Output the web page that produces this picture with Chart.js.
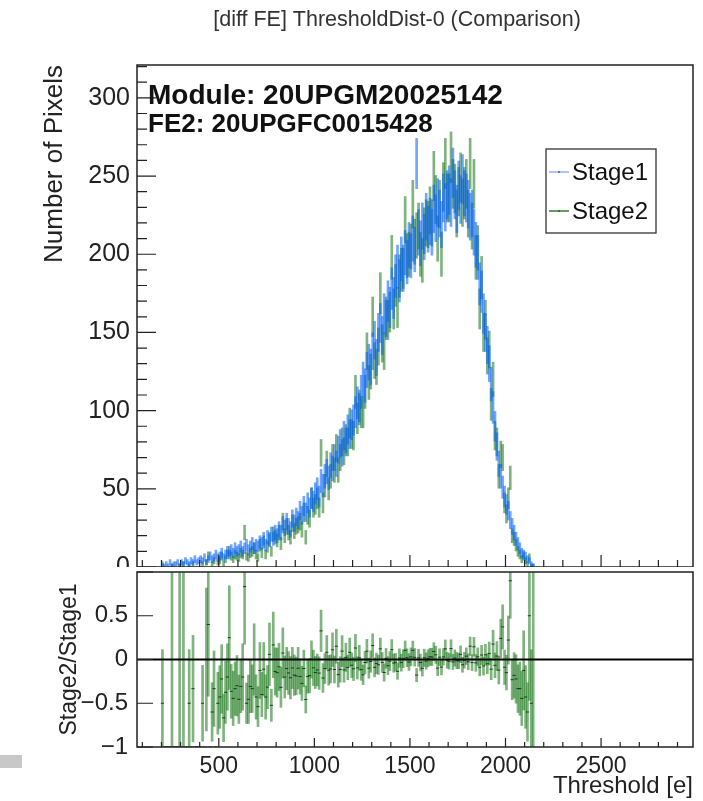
<!DOCTYPE html>
<html>
<head>
<meta charset="utf-8">
<script src="https://cdn.jsdelivr.net/npm/chart.js@4.4.1/dist/chart.umd.min.js"></script>
<style>
  html, body { margin: 0; padding: 0; background: #fff; }
  #page { position: relative; width: 703px; height: 801px; overflow: hidden; background: #fff; }
  #topPad { position: absolute; left: 0; top: 0; width: 703px; height: 567px; }
  #ratioPad { position: absolute; left: 0; top: 567px; width: 703px; height: 234px; }
  #mark { position: absolute; left: 0; top: 755px; width: 22px; height: 13px; background: #c8c8c8; }
</style>
</head>
<body>
<div id="page">
  <div id="topPad"><canvas id="histChart"></canvas></div>
  <div id="ratioPad"><canvas id="ratioChart"></canvas></div>
  <div id="mark"></div>
</div>
<script>
const FONT = "'Liberation Sans', Arial, Helvetica, sans-serif";

// histogram binning: 10 e wide bins starting at 200 e
const binStart = 200;
const binWidth = 10;

// pixels per bin (one row = 100 e)
const stage1 = [
  2, 1, 2, 1, 3, 1, 2, 2, 3, 1,
  3, 2, 4, 3, 2, 4, 3, 5, 3, 4,
  5, 4, 6, 3, 5, 7, 5, 6, 8, 6,
  7, 9, 6, 8, 10, 8, 11, 9, 12, 10,
  11, 13, 10, 12, 14, 11, 13, 15, 12, 14,
  13, 16, 15, 18, 14, 19, 17, 21, 18, 22,
  20, 24, 22, 27, 25, 29, 26, 24, 31, 28,
  32, 30, 36, 33, 39, 35, 41, 38, 44, 42,
  47, 50, 45, 55, 52, 58, 61, 57, 65, 63,
  70, 66, 75, 79, 73, 84, 80, 88, 85, 91,
  94, 99, 105, 101, 112, 120, 116, 126, 131, 128,
  138, 145, 134, 150, 156, 148, 162, 158, 170, 166,
  178, 172, 186, 192, 183, 197, 190, 201, 195, 206,
  199, 210, 203, 258, 214, 207, 218, 211, 224, 216,
  221, 214, 229, 223, 233, 226, 219, 236, 230, 238,
  241, 233, 252, 238, 229, 244, 235, 248, 240, 236,
  232, 224, 226, 214, 206, 198, 181, 176, 162, 150,
  142, 130, 117, 102, 90, 77, 66, 58, 51, 45,
  40, 36, 30, 26, 22, 18, 15, 12, 9, 8,
  7, 5, 4, 2, 1
];

const stage2 = [
  1, 0, 0, 0, 0, 1, 0, 0, 0, 1,
  0, 2, 0, 0, 1, 0, 2, 0, 0, 0,
  0, 2, 0, 3, 7, 0, 2, 4, 0, 3,
  4, 7, 2, 5, 8, 10, 7, 5, 8, 7,
  6, 9, 8, 22, 7, 6, 9, 10, 12, 8,
  6, 14, 9, 16, 8, 13, 18, 10, 21, 19,
  17, 22, 15, 29, 20, 26, 22, 19, 28, 23,
  26, 27, 29, 24, 35, 19, 33, 31, 44, 38,
  40, 44, 38, 73, 41, 52, 66, 50, 58, 70,
  62, 76, 62, 70, 80, 74, 82, 80, 92, 85,
  84, 112, 95, 103, 99, 99, 112, 138, 118, 125,
  160, 132, 128, 141, 175, 143, 138, 160, 158, 163,
  198, 165, 180, 166, 186, 190, 192, 222, 199, 200,
  205, 232, 208, 212, 218, 200, 196, 215, 220, 219,
  228, 220, 250, 235, 210, 232, 200, 243, 258, 236,
  236, 262, 245, 242, 226, 240, 249, 233, 238, 245,
  226, 258, 218, 245, 198, 204, 165, 185, 150, 158,
  135, 139, 104, 120, 84, 80, 58, 72, 70, 41,
  34, 44, 57, 20, 18, 14, 10, 8, 5, 7,
  4, 2, 6, 1, 1
];

const seriesNames = ['Stage1', 'Stage2'];
const xRange = [72, 2981];
const countRange = [0, 321];
const ratioRange = [-1, 1];
const xTickValues = [500, 1000, 1500, 2000, 2500];
const countTickValues = [0, 50, 100, 150, 200, 250, 300];
const ratioTickValues = [-1, -0.5, 0, 0.5];

const blue = 'rgba(0, 95, 255, 0.55)';
const green = 'rgba(0, 105, 0, 0.5)';

const centers = stage1.map((_, i) => binStart + binWidth * (i + 0.5));

// error bars as floating bars: value +- sqrt(N)
function errorBars(counts) {
  return counts.map((n, i) => ({ x: centers[i], y: [n - Math.sqrt(n), n + Math.sqrt(n)] }));
}

// Stage2/Stage1 shown as relative difference, errors propagated from both counts
const ratioVals = stage1.map((a, i) => (a > 0 ? stage2[i] / a - 1 : null));
const ratioErrs = stage1.map((a, i) => {
  if (a <= 0) return null;
  const b = stage2[i];
  return (b / a) * Math.sqrt(1 / a + (b > 0 ? 1 / b : 0));
});
const ratioPoints = ratioVals.map((r, i) => ({ x: centers[i], y: r }));
const ratioBars = ratioVals.map((r, i) =>
  r === null ? { x: centers[i], y: null } : { x: centers[i], y: [r - ratioErrs[i], r + ratioErrs[i]] });

const fixTicks = values => s => { s.ticks = values.map(v => ({ value: v })); };

// ROOT style frame with ticks pointing into the pad
const rootPad = {
  id: 'rootPad',
  afterDraw(chart, args, o) {
    const { ctx, chartArea: a } = chart;
    const x = chart.scales.x, y = chart.scales.y;
    ctx.save();
    ctx.strokeStyle = '#222';
    ctx.lineWidth = 1.2;
    ctx.beginPath();
    for (let k = 1; k * 100 < x.max; k++) {
      if (k * 100 < x.min) continue;
      const px = x.getPixelForValue(k * 100);
      const len = k % 5 === 0 ? o.xMajor : o.xMinor;
      ctx.moveTo(px, a.bottom);
      ctx.lineTo(px, a.bottom - len);
    }
    for (let k = Math.ceil(y.min / o.yStep); k * o.yStep <= y.max + 1e-9; k++) {
      const py = y.getPixelForValue(k * o.yStep);
      const len = k % o.yMajorEvery === 0 ? o.yMajor : o.yMinor;
      if (len <= 0) continue;
      ctx.moveTo(a.left, py);
      ctx.lineTo(a.left + len, py);
    }
    ctx.stroke();
    ctx.lineWidth = 1.5;
    ctx.strokeRect(a.left, a.top, a.right - a.left, a.bottom - a.top);
    ctx.restore();
  }
};

// pad title, module label and legend box of the top pad
const padText = {
  id: 'padText',
  afterDraw(chart) {
    const { ctx, chartArea: a } = chart;
    ctx.save();
    ctx.fillStyle = '#333';
    ctx.textAlign = 'center';
    ctx.textBaseline = 'middle';
    ctx.font = '21.5px ' + FONT;
    ctx.fillText('[diff FE] ThresholdDist-0 (Comparison)', 397, 20);

    ctx.fillStyle = '#111';
    ctx.textBaseline = 'alphabetic';
    ctx.textAlign = 'left';
    ctx.font = 'bold 28px ' + FONT;
    ctx.fillText('Module: 20UPGM20025142', a.left + 11, a.top + 39);
    ctx.font = 'bold 26px ' + FONT;
    ctx.fillText('FE2: 20UPGFC0015428', a.left + 11, a.top + 67);

    const lx = a.right - 147, ly = a.top + 84, lw = 110, lh = 84;
    ctx.fillStyle = '#fff';
    ctx.fillRect(lx, ly, lw, lh);
    ctx.strokeStyle = '#333';
    ctx.lineWidth = 1.3;
    ctx.strokeRect(lx, ly, lw, lh);
    const cols = ['#8fb0ff', '#2f7a2f'];
    ctx.font = '24px ' + FONT;
    ctx.textBaseline = 'middle';
    seriesNames.forEach((name, i) => {
      const yy = ly + 23 + i * 39;
      ctx.strokeStyle = cols[i];
      ctx.lineWidth = 1.5;
      ctx.beginPath();
      ctx.moveTo(lx + 3, yy);
      ctx.lineTo(lx + 23, yy);
      ctx.stroke();
      ctx.fillStyle = '#333';
      ctx.fillRect(lx + 12, yy - 0.5, 2, 1);
      ctx.fillStyle = '#111';
      ctx.fillText(name, lx + 26, yy + 1);
    });
    ctx.restore();
  }
};

new Chart(document.getElementById('histChart'), {
  type: 'bar',
  data: {
    datasets: [
      { label: seriesNames[0], data: errorBars(stage1), backgroundColor: blue, barThickness: 2, grouped: false, borderWidth: 0 },
      { label: seriesNames[1], data: errorBars(stage2), backgroundColor: green, barThickness: 2, grouped: false, borderWidth: 0 }
    ]
  },
  options: {
    animation: false,
    responsive: true,
    maintainAspectRatio: false,
    layout: { padding: { left: 0, right: 10, top: 65, bottom: 0 } },
    plugins: {
      legend: { display: false },
      tooltip: { enabled: false },
      rootPad: { xMajor: 12, xMinor: 7, yStep: 10, yMajorEvery: 5, yMajor: 19, yMinor: 10 }
    },
    scales: {
      x: { type: 'linear', min: xRange[0], max: xRange[1], offset: false, display: false },
      y: {
        min: countRange[0],
        max: countRange[1],
        grid: { display: false, drawTicks: false },
        border: { display: false },
        afterBuildTicks: fixTicks(countTickValues),
        ticks: { padding: 7, color: '#222', font: { family: FONT, size: 25 } },
        title: {
          display: true,
          text: 'Number of Pixels',
          align: 'end',
          color: '#222',
          font: { family: FONT, size: 26 },
          padding: { top: 39, bottom: 0 }
        },
        afterFit(s) { s.width = 137; s.paddingTop = 0; s.paddingBottom = 0; }
      }
    }
  },
  plugins: [rootPad, padText]
});

new Chart(document.getElementById('ratioChart'), {
  type: 'bar',
  data: {
    datasets: [
      { type: 'line', data: [{ x: xRange[0], y: 0 }, { x: xRange[1], y: 0 }], borderColor: '#000', borderWidth: 2, pointRadius: 0 },
      { type: 'line', data: ratioPoints, showLine: false, pointStyle: 'line', pointRadius: 1.6,
        pointBorderColor: 'rgba(10, 40, 10, 0.85)', pointBorderWidth: 1, clip: 0 },
      { data: ratioBars, backgroundColor: green, barThickness: 2, grouped: false, borderWidth: 0, clip: 0 }
    ]
  },
  options: {
    animation: false,
    responsive: true,
    maintainAspectRatio: false,
    layout: { padding: { left: 0, right: 10, top: 0, bottom: 0 } },
    plugins: {
      legend: { display: false },
      tooltip: { enabled: false },
      rootPad: { xMajor: 9, xMinor: 5, yStep: 0.5, yMajorEvery: 1, yMajor: 16, yMinor: 0 }
    },
    scales: {
      x: {
        type: 'linear', min: xRange[0], max: xRange[1], offset: false,
        grid: { display: false, drawTicks: false },
        border: { display: false },
        afterBuildTicks: fixTicks(xTickValues),
        ticks: { padding: 6, maxRotation: 0, autoSkip: false,
          color: '#222', font: { family: FONT, size: 23 }, callback: v => String(v) },
        title: {
          display: true, text: 'Threshold [e]', align: 'end', color: '#222',
          font: { family: FONT, size: 24 }, padding: { top: 0, bottom: 0 }
        },
        afterFit(s) { s.height = 54; s.paddingLeft = 0; s.paddingRight = 0; }
      },
      y: {
        min: ratioRange[0],
        max: ratioRange[1],
        grid: { display: false, drawTicks: false },
        border: { display: false },
        afterBuildTicks: fixTicks(ratioTickValues),
        ticks: { padding: 9, color: '#222',
          font: { family: FONT, size: 24 }, callback: v => String(v).replace('-', '\u2212') },
        title: {
          display: true, text: 'Stage2/Stage1', align: 'center', color: '#222',
          font: { family: FONT, size: 23 }, padding: { top: 56, bottom: 0 }
        },
        afterFit(s) { s.width = 137; s.paddingTop = 0; s.paddingBottom = 0; }
      }
    }
  },
  plugins: [rootPad]
});
</script>
</body>
</html>
